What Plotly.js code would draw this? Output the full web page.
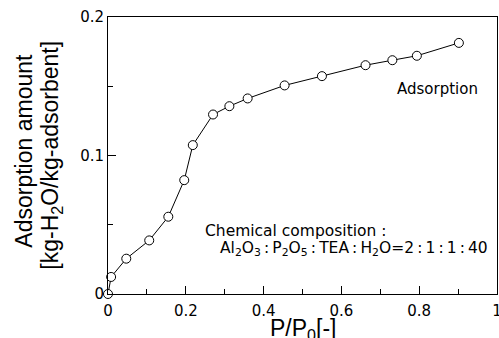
<!DOCTYPE html>
<html>
<head>
<meta charset="utf-8">
<script src="https://cdn.plot.ly/plotly-3.0.1.min.js"></script>
<style>html,body{margin:0;padding:0;background:#fff;}#chart{width:499px;height:338px;}</style>
</head>
<body>
<div id="chart"></div>
<script>
const relPressure = [0, 0.008, 0.047, 0.106, 0.155, 0.196, 0.218, 0.27, 0.312, 0.359, 0.454, 0.55, 0.662, 0.731, 0.794, 0.902];
const adsorptionAmount = [0, 0.0123, 0.0255, 0.0387, 0.0558, 0.0822, 0.1075, 0.1296, 0.1356, 0.1412, 0.1506, 0.1573, 0.1652, 0.1688, 0.172, 0.1813];
const xTitle = 'P/P<sub>0</sub>[-]';
const yTitleLine1 = 'Adsorption amount';
const yTitleLine2 = '[kg-H<sub>2</sub>O/kg-adsorbent]';
const seriesLabel = 'Adsorption';
const compLine1 = 'Chemical composition :';
const compLine2 = 'Al<sub>2</sub>O<sub>3</sub>\u2009:\u2009P<sub>2</sub>O<sub>5</sub>\u2009:\u2009TEA\u2009:\u2009H<sub>2</sub>O=2\u2009:\u20091\u2009:\u20091\u2009:\u200940';

const arial = 'Liberation Sans, Arial, sans-serif';
const wide = 'DejaVu Sans, sans-serif';

const trace = {
  x: relPressure, y: adsorptionAmount, type: 'scatter', mode: 'lines+markers',
  line: {color: '#000', width: 1},
  marker: {symbol: 'circle', size: 9, color: '#fff', line: {color: '#000', width: 1}},
  cliponaxis: false, showlegend: false
};

const layout = {
  width: 499, height: 338,
  margin: {l: 107.5, r: 2, t: 17, b: 44},
  paper_bgcolor: '#fff', plot_bgcolor: '#fff',
  font: {family: wide, color: '#000', size: 15},
  xaxis: {
    range: [0, 1], dtick: 0.2, tick0: 0, ticks: 'inside', ticklen: 8, tickcolor: '#000',
    minor: {dtick: 0.1, ticks: 'inside', ticklen: 5, tickcolor: '#000', showgrid: false},
    showline: true, mirror: true, linecolor: '#000', linewidth: 1,
    showgrid: false, zeroline: false, ticklabeloverflow: 'allow', ticklabelstandoff: 3,
    tickfont: {size: 15, family: wide}
  },
  yaxis: {
    range: [0, 0.2], dtick: 0.1, tick0: 0, ticks: 'inside', ticklen: 8, tickcolor: '#000',
    minor: {dtick: 0.05, ticks: 'inside', ticklen: 5, tickcolor: '#000', showgrid: false},
    showline: true, mirror: true, linecolor: '#000', linewidth: 1,
    showgrid: false, zeroline: false,
    tickfont: {size: 15, family: wide}
  },
  annotations: [
    {x: 0.5, y: -0.068, xref: 'paper', yref: 'paper', text: xTitle, showarrow: false,
     xanchor: 'center', yanchor: 'top', font: {size: 23, family: arial}},
    {x: -0.217, y: 0.516, xref: 'paper', yref: 'paper', text: yTitleLine1, textangle: -90, showarrow: false,
     xanchor: 'center', yanchor: 'middle', font: {size: 23, family: arial}},
    {x: -0.146, y: 0.5, xref: 'paper', yref: 'paper', text: yTitleLine2, textangle: -90, showarrow: false,
     xanchor: 'center', yanchor: 'middle', font: {size: 23, family: arial}},
    {x: 0.956, y: 0.148, xref: 'x', yref: 'y', text: seriesLabel, showarrow: false,
     xanchor: 'right', yanchor: 'middle', font: {size: 15, family: wide}},
    {x: 0.245, y: 0.0455, xref: 'x', yref: 'y', text: compLine1, showarrow: false,
     xanchor: 'left', yanchor: 'middle', font: {size: 15.5, family: wide}},
    {x: 0.284, y: 0.0325, xref: 'x', yref: 'y', text: compLine2, showarrow: false,
     xanchor: 'left', yanchor: 'middle', font: {size: 15.5, family: wide}}
  ]
};

Plotly.newPlot('chart', [trace], layout, {displayModeBar: false, staticPlot: true});
</script>
</body>
</html>
